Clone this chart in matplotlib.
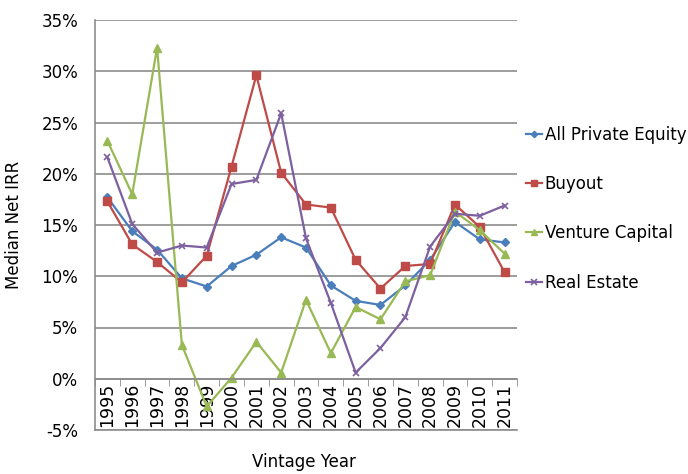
import matplotlib
matplotlib.use("Agg")
import matplotlib.pyplot as plt
import numpy as np
from matplotlib.ticker import FuncFormatter, FixedLocator

years = [str(y) for y in range(1995, 2012)]

all_pe = [17.7, 14.4, 12.6, 9.8, 9.0, 11.0, 12.1, 13.8, 12.8, 9.1, 7.6, 7.2, 9.1, 11.6, 15.3, 13.6, 13.3]
buyout = [17.3, 13.1, 11.4, 9.4, 12.0, 20.7, 29.6, 20.1, 17.0, 16.7, 11.6, 8.8, 11.0, 11.2, 17.0, 14.8, 10.4]
venture = [23.2, 18.0, 32.3, 3.3, -2.7, 0.1, 3.6, 0.6, 7.7, 2.5, 7.0, 5.8, 9.5, 10.1, 16.3, 14.5, 12.2]
real_estate = [21.6, 15.1, 12.3, 13.0, 12.8, 19.0, 19.4, 25.9, 13.7, 7.4, 0.6, 3.0, 6.0, 12.9, 16.1, 15.9, 16.9]

plt.rcParams['font.family'] = ['DejaVu Sans']

fig = plt.figure(figsize=(6.88, 4.74), dpi=100)
ax = fig.add_axes([95/688, 1-430/474, 422/688, 410/474])

x = np.arange(len(years))
ax.plot(x, all_pe, color='#4A7EBB', lw=1.6, marker='D', ms=4, label='All Private Equity')
ax.plot(x, buyout, color='#BE4B48', lw=1.6, marker='s', ms=6, label='Buyout')
ax.plot(x, venture, color='#98B954', lw=1.6, marker='^', ms=6, label='Venture Capital')
ax.plot(x, real_estate, color='#7D60A0', lw=1.6, marker='x', ms=5, mew=1.2, label='Real Estate')

ax.set_xlim(-0.5, len(years) - 0.5)
ax.set_ylim(-5, 35)
ax.set_yticks(np.arange(-5, 36, 5))
ax.yaxis.set_major_formatter(FuncFormatter(lambda v, p: '%d%%' % v))
ax.grid(axis='y', color='#8c8c8c', lw=1.2)
ax.axhline(-5, color='#8c8c8c', lw=1.2, clip_on=False, zorder=0)
ax.set_axisbelow(True)

ax.spines['top'].set_visible(False)
ax.spines['right'].set_visible(False)
ax.spines['left'].set_color('#8c8c8c')
ax.spines['bottom'].set_color('#8c8c8c')
ax.spines['bottom'].set_position(('data', 0))
ax.spines['left'].set_linewidth(1.2)
ax.spines['bottom'].set_linewidth(1.2)

ax.set_xticks(x)
ax.set_xticklabels(years, rotation=90)
ax.xaxis.set_minor_locator(FixedLocator(np.arange(-0.5, len(years), 1)))
ax.tick_params(axis='x', which='major', length=0, pad=3, labelsize=12.5)
ax.tick_params(axis='x', which='minor', length=5, color='#8c8c8c', direction='out')
ax.tick_params(axis='y', length=0, labelsize=12, pad=12)

ax.set_ylabel('Median Net IRR', fontsize=12)
ax.yaxis.set_label_coords(-0.17, 0.5)
fig.text(304/688, 1-462/474, 'Vintage Year', fontsize=12, ha='center', va='center')

fig.legend(loc='upper left', bbox_to_anchor=(519/688, 1-119/474), frameon=False,
           fontsize=12, labelspacing=1.88, handlelength=1.0, handletextpad=0.15,
           borderaxespad=0, markerscale=0.8)

fig.savefig('out.png', dpi=100)
